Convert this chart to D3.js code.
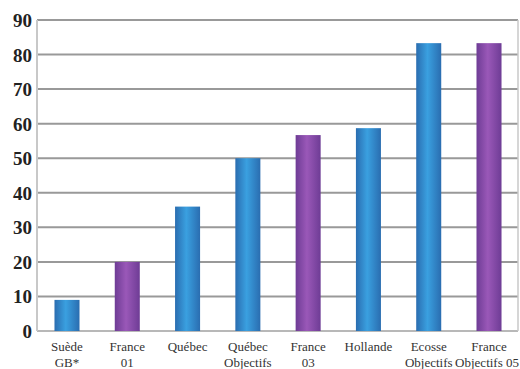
<!DOCTYPE html>
<html><head><meta charset="utf-8">
<script src="https://cdn.jsdelivr.net/npm/d3@7"></script>
<style>body{margin:0;background:#fff}svg{display:block}
text{font-family:"Liberation Serif","DejaVu Serif",serif}</style>
</head><body>
<script>
const categories = [["Suède","GB*"],["France","01"],["Québec"],["Québec","Objectifs"],["France","03"],["Hollande"],["Ecosse","Objectifs"],["France","Objectifs 05"]];
const values = [9, 20, 36, 50, 56.7, 58.7, 83.3, 83.3];
const colorKeys = ["blue","purple","blue","blue","purple","blue","blue","purple"];
const yTicks = [0,10,20,30,40,50,60,70,80,90];

const W = 520, H = 369;
const m = {left: 37, right: 1, top: 20, bottom: 38};
const svg = d3.select("body").append("svg").attr("width", W).attr("height", H);
const defs = svg.append("defs");
const grads = {blue: ["#2a6db0", "#3aa0e0"], purple: ["#6e3c95", "#9a58b8"]};
Object.entries(grads).forEach(([k, [edge, mid]]) => {
  const g = defs.append("linearGradient").attr("id", "g-" + k).attr("x1", "0").attr("x2", "1").attr("y1", "0").attr("y2", "0");
  g.append("stop").attr("offset", "0%").attr("stop-color", edge);
  g.append("stop").attr("offset", "45%").attr("stop-color", mid);
  g.append("stop").attr("offset", "100%").attr("stop-color", edge);
});

const x = d3.scaleBand().domain(d3.range(categories.length)).range([m.left, W - m.right]).paddingInner(0.585).paddingOuter(0.29);
const y = d3.scaleLinear().domain([0, 90]).range([H - m.bottom, m.top]);

// gridlines
svg.append("g").selectAll("line").data(yTicks).join("line")
  .attr("x1", m.left).attr("x2", W - m.right - 1)
  .attr("y1", d => y(d)).attr("y2", d => y(d))
  .attr("stroke", d => d === 0 ? "#b8b8b8" : "#999").attr("stroke-width", 2);
// frame verticals
svg.append("line").attr("x1", m.left).attr("x2", m.left).attr("y1", y(90)).attr("y2", y(0)).attr("stroke", "#c8c8c8").attr("stroke-width", 2);
svg.append("line").attr("x1", W - m.right - 1).attr("x2", W - m.right - 1).attr("y1", y(90)).attr("y2", y(0)).attr("stroke", "#c8c8c8").attr("stroke-width", 1.5);

// bars
svg.append("g").selectAll("rect").data(values).join("rect")
  .attr("x", (d, i) => x(i)).attr("width", x.bandwidth())
  .attr("y", d => y(d)).attr("height", d => y(0) - y(d))
  .attr("fill", (d, i) => "url(#g-" + colorKeys[i] + ")");

// y axis labels
const yAxis = d3.axisLeft(y).tickValues(yTicks).tickSize(0).tickPadding(5);
const ya = svg.append("g").attr("transform", `translate(${m.left},0)`).call(yAxis);
ya.select(".domain").remove();
ya.attr("font-family", null);
ya.selectAll("text").style("font-family", "'Liberation Serif', serif").attr("font-weight", "bold").attr("font-size", 19).attr("fill", "#222").attr("dy", "0.34em");

// x labels
const xl = svg.append("g").selectAll("text").data(categories).join("text")
  .attr("text-anchor", "middle")
  .style("font-family", "'Liberation Serif', serif").attr("font-size", 13).attr("fill", "#333")
  .attr("transform", (d, i) => `translate(${x(i) + x.bandwidth() / 2},351)`);
xl.selectAll("tspan").data(d => d).join("tspan")
  .attr("x", 0).attr("y", (d, j) => j * 16).text(d => d);
// keep lines inside the right edge
xl.selectAll("tspan").each(function() {
  const b = this.getBBox();
  const parentX = +this.parentNode.getAttribute("transform").match(/translate\(([\d.]+)/)[1];
  const over = parentX + b.x + b.width - (W - 1);
  if (over > 0) d3.select(this).attr("x", -over);
});
</script>
</body></html>
